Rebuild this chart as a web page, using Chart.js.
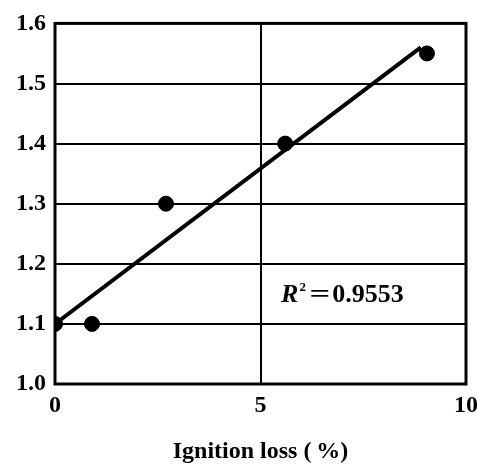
<!DOCTYPE html>
<html>
<head>
<meta charset="utf-8">
<script src="https://cdn.jsdelivr.net/npm/chart.js@4"></script>
<style>
  html, body { margin: 0; padding: 0; background: #fff; }
  #wrap { width: 477px; height: 467px; }
</style>
</head>
<body>
<div id="wrap"><canvas id="chart"></canvas></div>
<script>
// Data
const ignitionLoss = [0, 0.9, 2.7, 5.6, 9.05];
const measured = [1.1, 1.1, 1.3, 1.4, 1.55];
const fitX = [0, 8.9];
const fitY = [1.1, 1.56];
const r2Label = '0.9553';
const xTicks = [0, 5, 10];
const yTicks = [1.0, 1.1, 1.2, 1.3, 1.4, 1.5, 1.6];

const serif = "'Liberation Serif', 'DejaVu Serif', serif";

// Frame around plot + R² annotation
const extras = {
    id: 'extras',
    afterDraw(chart) {
        const { ctx, chartArea: a, scales } = chart;
        ctx.save();
        ctx.strokeStyle = '#000';
        ctx.lineWidth = 3;
        ctx.strokeRect(a.left, a.top, a.right - a.left, a.bottom - a.top);

        const px = scales.x.getPixelForValue(5.5);
        const py = scales.y.getPixelForValue(1.136);
        ctx.fillStyle = '#000';
        ctx.textBaseline = 'alphabetic';
        ctx.font = `italic bold 26px ${serif}`;
        ctx.fillText('R', px, py);
        const w = ctx.measureText('R').width;
        ctx.font = `bold 13px ${serif}`;
        ctx.fillText('2', px + w + 1, py - 11);
        ctx.font = `bold 26px ${serif}`;
        ctx.save();
        ctx.translate(px + w + 11, py);
        ctx.scale(1.4, 1);
        ctx.fillText('=', 0, 0);
        ctx.restore();
        const we = ctx.measureText('=').width * 1.4;
        ctx.fillText(r2Label, px + w + 13 + we, py);
        ctx.restore();
    }
};

new Chart(document.getElementById('chart'), {
    type: 'scatter',
    data: {
        datasets: [{
            data: ignitionLoss.map((x, i) => ({ x, y: measured[i] })),
            backgroundColor: '#000',
            borderColor: '#000',
            pointRadius: 7.5,
            pointHoverRadius: 7.5
        }, {
            type: 'line',
            data: fitX.map((x, i) => ({ x, y: fitY[i] })),
            borderColor: '#000',
            borderWidth: 4,
            pointRadius: 0,
            fill: false
        }]
    },
    options: {
        responsive: true,
        maintainAspectRatio: false,
        animation: false,
        layout: { padding: { left: 0, top: 23, right: 0, bottom: 0 } },
        plugins: {
            legend: { display: false },
            tooltip: { enabled: false }
        },
        scales: {
            x: {
                type: 'linear',
                min: 0,
                max: 10,
                afterBuildTicks: (s) => { s.ticks = xTicks.map(v => ({ value: v })); },
                afterFit: (s) => { s.height = 83; s.paddingRight = 11; },
                border: { display: false },
                grid: {
                    drawTicks: false,
                    lineWidth: 2,
                    color: (c) => (c.tick && c.tick.value === 5) ? '#000' : 'rgba(0,0,0,0)'
                },
                ticks: {
                    color: '#000',
                    padding: 7,
                    font: { family: serif, size: 24, weight: 'bold' }
                },
                title: {
                    display: true,
                    text: 'Ignition loss (\u2009%)',
                    color: '#000',
                    font: { family: serif, size: 24, weight: 'bold' },
                    padding: { top: 0, bottom: 1 }
                }
            },
            y: {
                min: 1.0,
                max: 1.6,
                afterBuildTicks: (s) => { s.ticks = yTicks.map(v => ({ value: v })); },
                afterFit: (s) => { s.width = 55; },
                border: { display: false },
                grid: {
                    drawTicks: false,
                    lineWidth: 2,
                    color: '#000'
                },
                ticks: {
                    color: '#000',
                    padding: 9,
                    font: { family: serif, size: 24, weight: 'bold' },
                    callback: (v) => Number(v).toFixed(1)
                }
            }
        }
    },
    plugins: [extras]
});
</script>
</body>
</html>
